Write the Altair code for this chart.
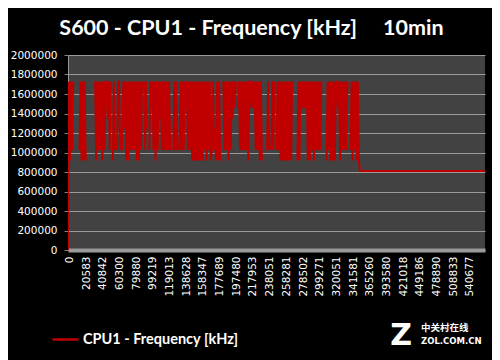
import altair as alt
import pandas as pd

TITLE = "S600 - CPU1 - Frequency [kHz]\u00a0\u00a0\u00a0\u00a0 10min"
SERIES = "CPU1 - Frequency [kHz]"

X_LABELS = ["0", "20583", "40842", "60300", "79880", "99219", "119013", "138628",
            "158347", "177689", "197480", "217953", "238051", "258281", "278502",
            "299271", "320051", "341581", "365260", "393580", "421018", "449186",
            "478890", "508833", "540677"]
SAMPLES_PER_LABEL = 16

Y_TICKS = [0, 200000, 400000, 600000, 800000, 1000000, 1200000, 1400000,
           1600000, 1800000, 2000000]

# frequency level codes (kHz); "." = CPU1 offline (no reading)
LEVELS = {"0": 0, "H": 1728000, "N": 1458000, "M": 1350000, "K": 1242000,
          "C": 1134000, "A": 1026000, "B": 918000, ".": None}

# one character per sample (active period)
ACTIVE = [
    "0HBHAH....", ".AHBHBHB..", "......HBHA", "HAHBHAHHMH", "AH.BHACAHH",
    "AKAHKHBHBH", "AHAHAHBHBH", "AH.HAHK.AH", "NHAHBHAHMH", "AHAHAHAHA.",
    ".AHAHA.AHA", "HAHNHAHAHB", "HBHBHBHBHB", "HAHBHAHBAH", "AKBHBHB..H",
    "AHAHBHAHMH", "NH.NHAHAHA", "HAHBHHNHNH", "AHAHBHB...", ".AHA.AHAH.",
    "AHAHBHBHBH", "BHBHBH....", "BHBHNHNHNH", "BHBHAHBHAH", "AHAH....BH",
    "AHBHBHBHHN", "HBHAHAHAH.", ".AHBHAHBHB",
]
# idle period after the load: flat frequency
TAIL_LEVEL = 810000
TAIL_SAMPLES = [280, 400]

rows = []
for i, ch in enumerate("".join(ACTIVE)):
    rows.append({"sample": i, "freq": LEVELS[ch], "series": SERIES})
for s in TAIL_SAMPLES:
    rows.append({"sample": s, "freq": TAIL_LEVEL, "series": SERIES})
df = pd.DataFrame(rows)

n_total = SAMPLES_PER_LABEL * len(X_LABELS)
x_ticks = [k * SAMPLES_PER_LABEL for k in range(len(X_LABELS))]
label_expr = "[" + ",".join("'%s'" % s for s in X_LABELS) + "][round(datum.value / %d)]" % SAMPLES_PER_LABEL

line = alt.Chart(df).mark_line(strokeWidth=2, clip=True).encode(
    x=alt.X("sample:Q",
            scale=alt.Scale(domain=[0, n_total], nice=False, zero=False),
            axis=alt.Axis(values=x_ticks, labelExpr=label_expr, labelAngle=-90,
                          title=None, grid=False, ticks=False,
                          domainColor="#9a9a9a", domainWidth=4,
                          labelColor="white", labelFont="DejaVu Sans",
                          labelFontSize=10.5, labelPadding=6, labelOffset=1.5,
                          labelOverlap=False, labelBound=False, labelFlush=False)),
    y=alt.Y("freq:Q",
            scale=alt.Scale(domain=[0, 2000000], nice=False),
            axis=alt.Axis(values=Y_TICKS, format="d", title=None,
                          grid=True, gridColor="#9a9a9a", gridWidth=1,
                          ticks=True, tickColor="#808080", tickSize=4,
                          domainColor="#9a9a9a", domainWidth=1,
                          labelColor="white", labelFont="DejaVu Sans",
                          labelFontSize=10.5, labelPadding=7)),
    color=alt.Color("series:N", scale=alt.Scale(range=["#c00000"]),
                    legend=alt.Legend(title=None, orient="none", legendX=-17,
                                      legendY=270, symbolType="stroke",
                                      symbolSize=676, symbolStrokeWidth=2.5,
                                      labelColor="white", labelFont="Lato",
                                      labelFontWeight="bold", labelFontSize=14.5,
                                      labelLimit=400, labelOffset=3, padding=0)),
)

wm_cn = alt.Chart(pd.DataFrame({"t": ["中关村在线"]})).mark_text(
    font="Noto Sans CJK SC", fontWeight="bold", fontSize=9.5, color="white",
    align="left", baseline="alphabetic").encode(
    x=alt.value(353), y=alt.value(276), text="t:N")
wm_en = alt.Chart(pd.DataFrame({"t": ["ZOL.COM.CN"]})).mark_text(
    font="DejaVu Sans", fontWeight="bold", fontSize=8.5, color="white",
    align="left", baseline="alphabetic").encode(
    x=alt.value(353), y=alt.value(289), text="t:N")
wm_z = alt.Chart(pd.DataFrame({"t": ["Z"]})).mark_text(
    font="DejaVu Sans", fontWeight="bold", fontSize=30, color="white",
    align="center", baseline="alphabetic").encode(
    x=alt.value(333), y=alt.value(290), text="t:N")

chart = alt.layer(line, wm_cn, wm_en, wm_z).properties(
    width=417, height=195,
    title=alt.TitleParams(TITLE, font="Lato", fontSize=21.5, fontWeight="bold",
                          color="white", anchor="middle", frame="group",
                          dx=-25, offset=11),
    padding={"left": 60, "top": 47, "right": 7, "bottom": 110},
    autosize="none",
    background="black",
).configure_view(fill="#424242", stroke=None)

chart.save("out.html", embed_options={"renderer": "svg", "actions": False})
